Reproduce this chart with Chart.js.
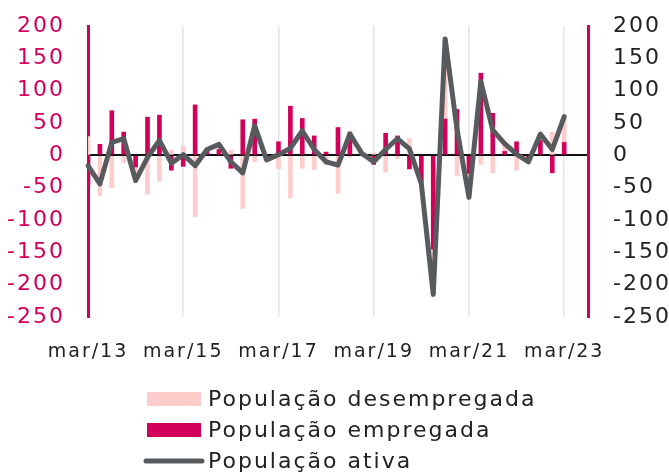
<!DOCTYPE html>
<html>
<head>
<meta charset="utf-8">
<script src="https://cdn.jsdelivr.net/npm/chart.js@4/dist/chart.umd.min.js"></script>
<style>
html,body{margin:0;padding:0;background:#fff;}
#wrap{width:669px;height:473px;position:relative;}
</style>
</head>
<body>
<div id="wrap"><canvas id="c" width="669" height="473"></canvas></div>
<script>
const quarters = [
  "mar/13","jun/13","set/13","dez/13","mar/14","jun/14","set/14","dez/14",
  "mar/15","jun/15","set/15","dez/15","mar/16","jun/16","set/16","dez/16",
  "mar/17","jun/17","set/17","dez/17","mar/18","jun/18","set/18","dez/18",
  "mar/19","jun/19","set/19","dez/19","mar/20","jun/20","set/20","dez/20",
  "mar/21","jun/21","set/21","dez/21","mar/22","jun/22","set/22","dez/22",
  "mar/23","jun/23","set/23"
];
const unemployed = [
  29, -62, -50, -11, -21, -60, -40, 8,
  14, -95, 2, 8, 8, -82, -10, -4,
  -21, -66, -20, -22, -15, -59, -3, 1,
  4, -26, -5, 26, -2, -70, 124, -31,
  -37, -14, -27, 12, -23, -6, 10, 36,
  40, null, null
];
const employed = [
  -46, 17, 69, 36, -18, 59, 62, -23,
  -17, 78, 8, 9, -20, 55, 56, -3,
  21, 76, 57, 30, 5, 43, 36, 2,
  -14, 34, 30, -21, -42, -145, 56, 71,
  -28, 127, 65, 6, 21, -4, 23, -27,
  20, null, null
];
const active = [
  -16, -44, 20, 26, -39, -3, 23, -12,
  1, -16, 9, 17, -10, -27, 46, -7,
  1, 11, 38, 9, -10, -15, 33, 3,
  -10, 9, 26, 10, -44, -215, 180, 40,
  -65, 114, 39, 18, 2, -10, 33, 9,
  60, null, null
];
const yTicks = [200, 150, 100, 50, 0, -50, -100, -150, -200, -250];

const CRIMSON = '#d2005a';
const PINK = '#ffcccc';
const GREY = '#585b5e';
const FONT = 'DejaVu Sans';
const SPACING = '2px';

const tweaks = {
  id: 'tweaks',
  beforeLayout(chart){ chart.ctx.letterSpacing = SPACING; },
  beforeDraw(chart){ chart.ctx.letterSpacing = SPACING; },
  afterDraw(chart){
    // legend, stacked vertically below the chart
    const ctx = chart.ctx;
    const ds = chart.data.datasets;
    const x0 = 147, boxW = 54, boxH = 14, rowY0 = 399, rowStep = 31;
    ctx.save();
    ctx.letterSpacing = SPACING;
    ctx.font = '22px "' + FONT + '"';
    ctx.textBaseline = 'middle';
    ctx.textAlign = 'left';
    ds.forEach((d, i) => {
      const cy = rowY0 + i * rowStep;
      if (d.type === 'line') {
        ctx.strokeStyle = d.borderColor;
        ctx.lineWidth = d.borderWidth;
        ctx.lineCap = 'round';
        ctx.beginPath();
        ctx.moveTo(x0 - 1, cy);
        ctx.lineTo(x0 + boxW + 1, cy);
        ctx.stroke();
      } else {
        ctx.fillStyle = d.backgroundColor;
        ctx.fillRect(x0, cy - boxH / 2, boxW, boxH);
      }
      ctx.fillStyle = '#222';
      ctx.fillText(d.label, x0 + boxW + 7, cy + 1);
    });
    ctx.restore();
  }
};

new Chart(document.getElementById('c'), {
  type: 'bar',
  data: {
    labels: quarters,
    datasets: [
      {
        label: 'População desempregada',
        data: unemployed,
        backgroundColor: PINK,
        borderWidth: 0,
        barThickness: 4,
        order: 2,
        stack: 'pop'
      },
      {
        label: 'População empregada',
        data: employed,
        backgroundColor: CRIMSON,
        borderWidth: 0,
        barThickness: 4,
        order: 1,
        stack: 'pop'
      },
      {
        type: 'line',
        label: 'População ativa',
        data: active,
        borderColor: GREY,
        backgroundColor: GREY,
        borderWidth: 5,
        borderJoinStyle: 'round',
        borderCapStyle: 'round',
        tension: 0,
        pointRadius: 0,
        pointHoverRadius: 0,
        order: 0,
        stack: 'line'
      }
    ]
  },
  options: {
    responsive: false,
    animation: false,
    devicePixelRatio: 1,
    layout: { padding: { top: 26, bottom: 106, left: 0, right: 0 } },
    plugins: {
      tooltip: { enabled: false },
      legend: { display: false }
    },
    scales: {
      x: {
        type: 'category',
        stacked: true,
        offset: false,
        grid: {
          offset: false,
          drawTicks: false,
          lineWidth: 1.5,
          color: (c) => (c.index % 8 === 0 && c.index > 0) ? '#e4e4e4' : 'rgba(0,0,0,0)'
        },
        border: { display: false },
        ticks: {
          autoSkip: false,
          maxRotation: 0,
          minRotation: 0,
          padding: 24,
          color: '#222',
          font: { family: FONT, size: 19 },
          callback: (v, i) => (i % 8 === 0 ? quarters[i] : '')
        },
        afterFit: (s) => { s.height = 50; }
      },
      y: {
        position: 'left',
        stacked: true,
        min: -250,
        max: 200,
        afterBuildTicks: (s) => { s.ticks = yTicks.map(v => ({ value: v })); },
        grid: {
          drawTicks: true,
          tickLength: 13,
          tickColor: 'rgba(0,0,0,0)',
          lineWidth: 2,
          color: (c) => (c.tick && c.tick.value === 0) ? '#111' : 'rgba(0,0,0,0)'
        },
        border: { display: true, color: CRIMSON, width: 3 },
        ticks: {
          padding: 10,
          color: CRIMSON,
          font: { family: FONT, size: 22 }
        },
        afterFit: (s) => { s.width = 88; }
      },
      y2: {
        position: 'right',
        min: -250,
        max: 200,
        afterBuildTicks: (s) => { s.ticks = yTicks.map(v => ({ value: v })); },
        grid: {
          display: true,
          drawOnChartArea: false,
          drawTicks: true,
          tickLength: 15,
          tickColor: 'rgba(0,0,0,0)',
          color: 'rgba(0,0,0,0)'
        },
        border: { display: true, color: CRIMSON, width: 3 },
        ticks: {
          padding: 10,
          color: '#222',
          font: { family: FONT, size: 22 }
        },
        afterFit: (s) => { s.width = 81; }
      }
    }
  },
  plugins: [tweaks]
});
</script>
</body>
</html>
